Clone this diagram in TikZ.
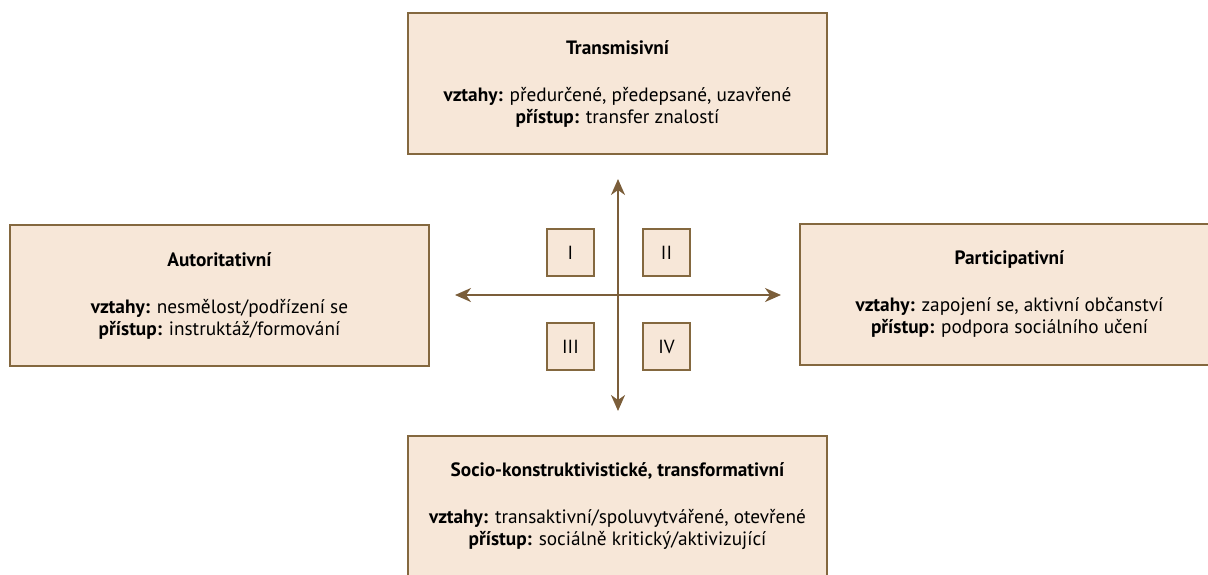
\documentclass[tikz,border=0pt]{standalone}
\usepackage{fontspec}
\setmainfont{PT Sans}
\usepackage{xcolor}
\usepackage{tikz}
\usetikzlibrary{arrows.meta,positioning,calc}

\definecolor{boxfill}{HTML}{F7E7D8}
\definecolor{boxline}{HTML}{84683F}
\definecolor{axisline}{HTML}{7B5E3A}

\begin{document}
\begin{tikzpicture}[x=1pt, y=-1pt,
                    role box/.style={rectangle, draw=boxline, line width=2pt, fill=boxfill, minimum width=419pt, minimum height=141pt, align=center, font=\fontsize{19.3}{22}\selectfont},
                    quad box/.style={rectangle, draw=boxline, line width=2pt, fill=boxfill, minimum width=47pt, minimum height=47pt, font=\fontsize{19}{20}\selectfont},
                    axis arrow/.style={{Stealth[length=16pt,width=14pt,inset=5pt]}-{Stealth[length=16pt,width=14pt,inset=5pt]}, draw=axisline, fill=axisline, line width=2pt}]

    \clip (0,0) rectangle (1208,574);
    \useasboundingbox (0,0) rectangle (1208,574);

    % four styles of relations
    \node [role box] (trans) at (617.5,83.5) {\textbf{Transmisivní}\\[25pt]\textbf{vztahy:} předurčené, předepsané, uzavřené\\\textbf{přístup:} transfer znalostí};
    \node [role box] (auth) at (219.5,295.5) {\textbf{Autoritativní}\\[25pt]\textbf{vztahy:} nesmělost/podřízení se\\\textbf{přístup:} instruktáž/formování};
    \node [role box] (part) at (1009.5,294) {\textbf{Participativní}\\[25pt]\textbf{vztahy:} zapojení se, aktivní občanství\\\textbf{přístup:} podpora sociálního učení};
    \node [role box] (socio) at (617.5,506.5) {\textbf{Socio-konstruktivistické, transformativní}\\[25pt]\textbf{vztahy:} transaktivní/spoluvytvářené, otevřené\\\textbf{přístup:} sociálně kritický/aktivizující};

    % axes
    \coordinate (origin) at (618,295);
    \coordinate (ax top) at (618,179);
    \coordinate (ax bottom) at (618,411);
    \coordinate (ax left) at (455,295);
    \coordinate (ax right) at (781,295);
    \draw [axis arrow] (ax left) -- (ax right);
    \draw [axis arrow] (ax top) -- (ax bottom);

    % quadrants
    \node [quad box] (q1) at (570.5,252.5) {I};
    \node [quad box, right=47pt of q1] (q2) {II};
    \node [quad box, below=45pt of q1] (q3) {III};
    \node [quad box, right=47pt of q3] (q4) {IV};

\end{tikzpicture}
\end{document}
